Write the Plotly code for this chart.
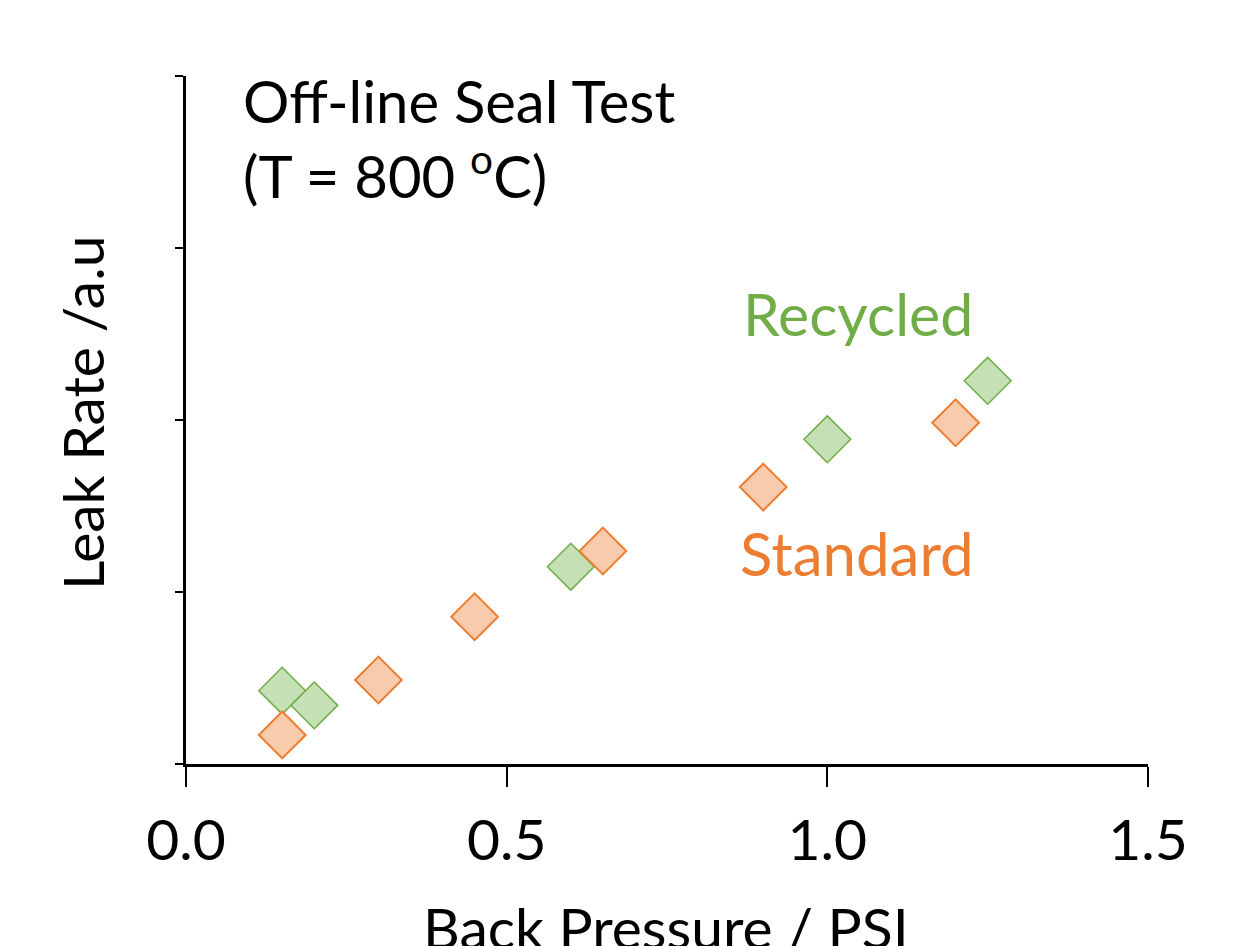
import plotly.graph_objects as go

# Data
recycled_x = [0.15, 0.20, 0.60, 1.00, 1.25]
recycled_y = [0.426, 0.341, 1.147, 1.888, 2.228]
standard_x = [0.15, 0.30, 0.45, 0.65, 0.90, 1.20]
standard_y = [0.169, 0.488, 0.856, 1.238, 1.610, 1.984]
x_ticks = [0.0, 0.5, 1.0, 1.5]
x_tick_labels = ["0.0", "0.5", "1.0", "1.5"]
y_ticks = [0, 1, 2, 3, 4]

FONT = "Lato"
W, H = 1238, 946
OFF = 8  # page body margin in the browser
# plot area in page pixels
PL, PR, PT, PB = 186, 1148, 76, 764
PW, PH = PR - PL, PB - PT


def px(x):
    return (x - PL) / PW


def py(y):
    return (PB - y) / PH


fig = go.Figure()
fig.add_trace(go.Scatter(
    x=recycled_x, y=recycled_y, mode="markers", name="Recycled",
    marker=dict(symbol="diamond", size=36, color="#C5E0B4",
                line=dict(color="#70AD47", width=1.5)),
    showlegend=False, cliponaxis=False))
fig.add_trace(go.Scatter(
    x=standard_x, y=standard_y, mode="markers", name="Standard",
    marker=dict(symbol="diamond", size=36, color="#F8CBAD",
                line=dict(color="#ED7D31", width=2)),
    showlegend=False, cliponaxis=False))

annotations = [
    dict(text="Off-line Seal Test", x=px(241), y=py(101), xref="paper", yref="paper",
         xanchor="left", yanchor="middle", showarrow=False,
         font=dict(family=FONT, size=58, color="black")),
    dict(text="(T = 800 <sup>o</sup>C)", x=px(241), y=py(172), xref="paper", yref="paper",
         xanchor="left", yanchor="middle", showarrow=False,
         font=dict(family=FONT, size=58, color="black")),
    dict(text="Recycled", x=px(741), y=py(313), xref="paper", yref="paper",
         xanchor="left", yanchor="middle", showarrow=False,
         font=dict(family=FONT, size=59, color="#70AD47")),
    dict(text="Standard", x=px(738), y=py(553), xref="paper", yref="paper",
         xanchor="left", yanchor="middle", showarrow=False,
         font=dict(family=FONT, size=60, color="#ED7D31")),
    dict(text="Leak Rate /a.u", x=px(82), y=py(413), xref="paper", yref="paper",
         xanchor="center", yanchor="middle", textangle=-90, showarrow=False,
         font=dict(family=FONT, size=57, color="black")),
    dict(text="Back Pressure / PSI", x=px(666), y=py(927), xref="paper", yref="paper",
         xanchor="center", yanchor="middle", showarrow=False,
         font=dict(family=FONT, size=57, color="black")),
]

fig.update_layout(
    template="none",
    width=W, height=H,
    margin=dict(l=PL - OFF, r=W - PR + OFF, t=PT - OFF, b=H - PB + OFF,
                pad=0, autoexpand=False),
    paper_bgcolor="white", plot_bgcolor="white",
    annotations=annotations,
    xaxis=dict(range=[0, 1.5], tickvals=x_ticks, ticktext=x_tick_labels,
               showgrid=False, zeroline=False, showline=True, automargin=False,
               linecolor="black", linewidth=2.5, ticks="outside", ticklen=20,
               tickwidth=2, tickcolor="black", ticklabelstandoff=5,
               tickfont=dict(family=FONT, size=57, color="black"), fixedrange=True),
    yaxis=dict(range=[0, 4], tickvals=y_ticks, showticklabels=False,
               showgrid=False, zeroline=False, showline=True, automargin=False,
               linecolor="black", linewidth=2.5, ticks="outside", ticklen=8,
               tickwidth=2, tickcolor="black", fixedrange=True),
)

fig.write_html("out.html")
